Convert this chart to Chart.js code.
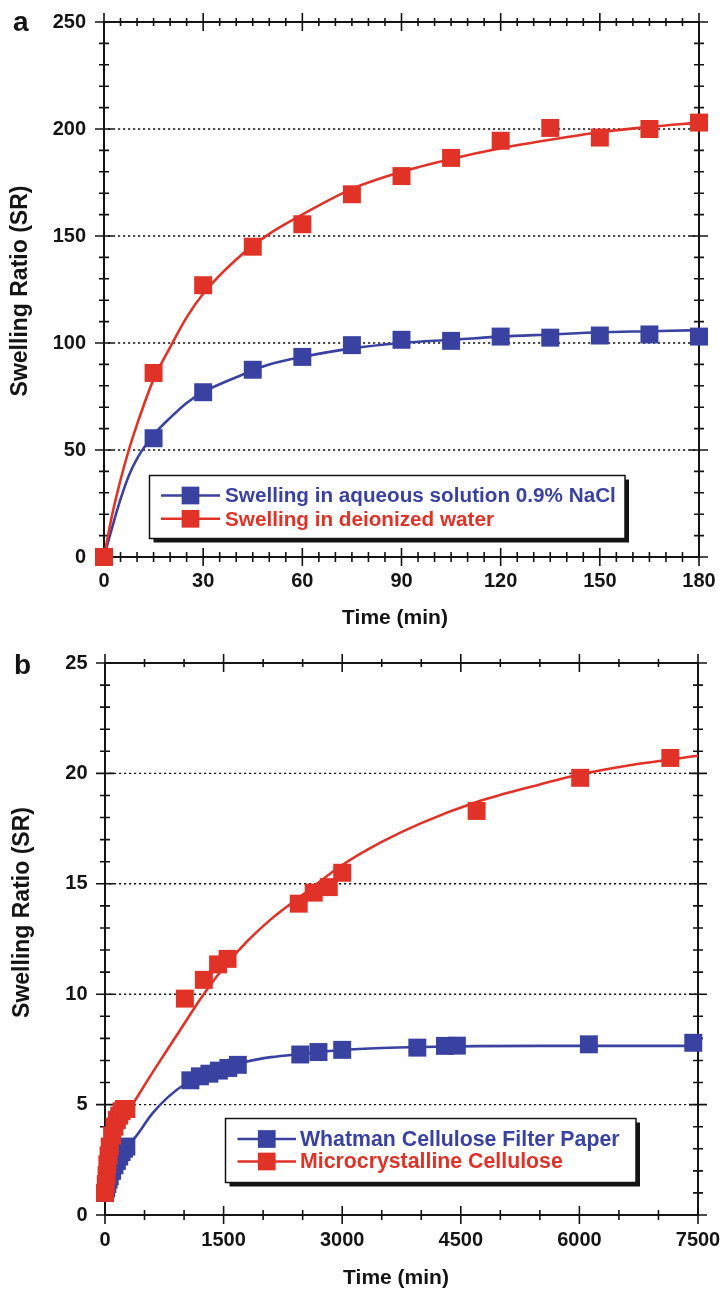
<!DOCTYPE html>
<html>
<head>
<meta charset="utf-8">
<script src="https://cdn.jsdelivr.net/npm/chart.js@4.4.0/dist/chart.umd.min.js"></script>
<style>
  html, body { margin: 0; padding: 0; background: #fff; }
  #wrap { position: relative; width: 720px; height: 1289px; overflow: hidden; }
  canvas { position: absolute; left: 0; }
</style>
</head>
<body>
<div id="wrap">
  <canvas id="chartA" width="720" height="640" style="top:0"></canvas>
  <canvas id="chartB" width="720" height="649" style="top:640px"></canvas>
</div>
<script>
const FONT = "'Liberation Sans', Arial, Helvetica, sans-serif";
const BLUE = '#3942a1';
const RED = '#e13227';
const INK = '#141414';

// ---- Panel a: swelling in saline vs deionized water (0-180 min) ----
const timeA   = [0, 15, 30, 45, 60, 75, 90, 105, 120, 135, 150, 165, 180];
const waterA  = [0, 86, 127, 145, 155.5, 169.5, 178, 186.5, 194.5, 200.5, 196, 200, 203];
const salineA = [0, 55.5, 77, 87.5, 93.5, 99, 101.5, 101, 103, 102.5, 103.5, 104, 103];

const fitTimeA   = [0, 2.5, 5, 7.5, 10, 15, 20, 25, 30, 40, 50, 60, 75, 90, 105, 120, 135, 150, 165, 180];
const waterFitA  = [0, 20, 36, 50, 62, 83, 98, 112, 123, 139, 151, 160, 172, 180, 186, 191, 195, 198.5, 201, 203];
const salineFitA = [0, 14, 27, 38, 46, 57, 65, 72, 77, 84, 90, 93.5, 97.5, 100, 101.5, 103, 104, 105, 105.5, 106];

const xTicksA = [0, 30, 60, 90, 120, 150, 180];
const yTicksA = [0, 50, 100, 150, 200, 250];

// ---- Panel b: filter paper vs microcrystalline cellulose (0-7500 min) ----
const timeMC = [0, 10, 20, 30, 45, 60, 90, 120, 150, 180, 210, 240, 270,
                1010, 1250, 1430, 1550, 2450, 2640, 2830, 3000, 4700, 6010, 7150];
const srMC   = [1.0, 1.4, 1.8, 2.3, 2.7, 3.1, 3.6, 4.0, 4.3, 4.5, 4.7, 4.8, 4.8,
                9.8, 10.65, 11.35, 11.6, 14.1, 14.6, 14.85, 15.5, 18.3, 19.8, 20.7];

const timeWP = [0, 15, 30, 45, 60, 90, 120, 150, 180, 210, 240, 270,
                1080, 1200, 1320, 1440, 1560, 1680, 2470, 2700, 3000, 3950, 4300, 4450, 6120, 7440];
const srWP   = [1.0, 1.2, 1.4, 1.6, 1.75, 2.0, 2.25, 2.45, 2.65, 2.85, 3.0, 3.1,
                6.1, 6.28, 6.4, 6.54, 6.66, 6.8, 7.27, 7.38, 7.48, 7.58, 7.66, 7.67, 7.73, 7.8];

const fitTimeB = [0, 50, 100, 200, 300, 400, 600, 800, 1000, 1200, 1500, 1800, 2100, 2500, 3000, 3500, 4000, 4700, 5500, 6000, 6600, 7500];
const mcFitB   = [1.0, 1.8, 2.5, 3.8, 4.7, 5.3, 6.45, 7.55, 8.65, 9.75, 11.2, 12.4, 13.4, 14.5, 15.85, 16.9, 17.75, 18.7, 19.5, 19.95, 20.35, 20.8];
const wpFitB   = [1.0, 1.5, 1.9, 2.6, 3.15, 3.6, 4.6, 5.35, 5.9, 6.25, 6.6, 6.95, 7.15, 7.3, 7.47, 7.56, 7.61, 7.65, 7.66, 7.66, 7.66, 7.66];

const xTicksB = [0, 1500, 3000, 4500, 6000, 7500];
const yTicksB = [0, 5, 10, 15, 20, 25];

const pts = (xs, ys) => xs.map((x, i) => ({ x, y: ys[i] }));

// Boxed axes with crossing major/minor ticks on all four sides, plus dotted grid
const framePlugin = {
  id: 'frame',
  beforeDatasetsDraw(chart, args, o) {
    const { ctx, chartArea: a } = chart;
    const sx = chart.scales.x, sy = chart.scales.y;
    ctx.save();
    ctx.strokeStyle = INK;
    ctx.lineWidth = 1.4;
    ctx.setLineDash([2.2, 2.8]);
    o.yMajor.forEach(v => {
      if (v <= sy.min || v >= sy.max) return;
      const p = sy.getPixelForValue(v);
      ctx.beginPath();
      ctx.moveTo(a.left + 4, p);
      ctx.lineTo(a.right, p);
      ctx.stroke();
    });
    ctx.setLineDash([]);
    ctx.lineWidth = 2;
    ctx.strokeRect(a.left, a.top, a.right - a.left, a.bottom - a.top);
    ctx.lineWidth = 1.6;
    ctx.beginPath();
    const eps = 1e-6;
    for (let v = sx.min; v <= sx.max + eps; v += o.xMinor) {
      const p = sx.getPixelForValue(v);
      const major = o.xMajor.some(m => Math.abs(m - v) < eps);
      const hb = major ? 9 : 5, ht = major ? 9 : 4;
      ctx.moveTo(p, a.bottom - hb); ctx.lineTo(p, a.bottom + hb);
      ctx.moveTo(p, a.top - ht); ctx.lineTo(p, a.top + ht);
    }
    for (let v = sy.min; v <= sy.max + eps; v += o.yMinor) {
      const p = sy.getPixelForValue(v);
      const major = o.yMajor.some(m => Math.abs(m - v) < eps);
      const h = major ? 9 : 5;
      ctx.moveTo(a.left - h, p); ctx.lineTo(a.left + h, p);
      ctx.moveTo(a.right - h, p); ctx.lineTo(a.right + h, p);
    }
    ctx.stroke();
    ctx.restore();
  }
};

// Framed legend with drop shadow
const legendBoxPlugin = {
  id: 'legendBox',
  afterDatasetsDraw(chart, args, o) {
    const ctx = chart.ctx;
    ctx.save();
    ctx.fillStyle = INK;
    ctx.fillRect(o.x + o.shadow, o.y + o.shadow, o.w, o.h);
    ctx.fillStyle = '#fff';
    ctx.fillRect(o.x, o.y, o.w, o.h);
    ctx.strokeStyle = INK;
    ctx.lineWidth = 1.5;
    ctx.strokeRect(o.x, o.y, o.w, o.h);
    o.rows.forEach((idx, k) => {
      const ds = chart.data.datasets[idx];
      const cy = o.y + o.firstRow + k * o.rowGap;
      ctx.strokeStyle = ds.backgroundColor;
      ctx.lineWidth = 2.6;
      ctx.beginPath();
      ctx.moveTo(o.lineX0, cy);
      ctx.lineTo(o.lineX1, cy);
      ctx.stroke();
      ctx.fillStyle = ds.backgroundColor;
      const s = o.marker;
      ctx.fillRect((o.lineX0 + o.lineX1) / 2 - s / 2, cy - s / 2, s, s);
      ctx.font = `bold ${o.fontSize}px ${FONT}`;
      ctx.textAlign = 'left';
      ctx.textBaseline = 'middle';
      ctx.fillText(ds.label, o.textX, cy + 1);
    });
    ctx.restore();
  }
};

// Panel letter and axis titles
const labelsPlugin = {
  id: 'labels',
  afterDraw(chart, args, o) {
    const ctx = chart.ctx;
    ctx.save();
    ctx.fillStyle = INK;
    ctx.font = `bold 28px ${FONT}`;
    ctx.textAlign = 'left';
    ctx.textBaseline = 'alphabetic';
    ctx.fillText(o.panel.text, o.panel.x, o.panel.y);

    ctx.font = `bold 21px ${FONT}`;
    ctx.textAlign = 'center';
    ctx.textBaseline = 'middle';
    ctx.fillText(o.xTitle.text, o.xTitle.x, o.xTitle.y);

    ctx.font = `bold 23px ${FONT}`;
    ctx.translate(o.yTitle.x, o.yTitle.y);
    ctx.rotate(-Math.PI / 2);
    ctx.fillText(o.yTitle.text, 0, 0);
    ctx.restore();
  }
};

function markerSet(label, data, color) {
  return {
    label, data, showLine: false, pointStyle: 'rect',
    pointRadius: 12.7, pointHoverRadius: 12.7, pointBorderWidth: 0,
    backgroundColor: color, borderColor: color, clip: false
  };
}
function curveSet(label, data, color) {
  return {
    label, data, showLine: true, pointRadius: 0, pointHoverRadius: 0,
    borderColor: color, backgroundColor: color, borderWidth: 2.6,
    cubicInterpolationMode: 'monotone', fill: false, clip: false
  };
}

// fixed scale size; label overhang is left to the layout padding
function fixSize(s, dim, size) {
  s[dim] = size;
  s.paddingTop = 0; s.paddingBottom = 0; s.paddingLeft = 0; s.paddingRight = 0;
}

function makeOptions(c) {
  const tickFont = { family: FONT, size: 20, weight: 'bold', lineHeight: 1.2 };
  return {
    responsive: false,
    animation: false,
    devicePixelRatio: 1,
    events: [],
    layout: { padding: { top: c.top, right: c.right, left: 0, bottom: 0 } },
    plugins: {
      legend: { display: false },
      tooltip: { enabled: false },
      frame: { xMinor: c.xMinor, yMinor: c.yMinor, xMajor: c.xTicks, yMajor: c.yTicks },
      legendBox: c.legend,
      labels: c.labels
    },
    scales: {
      x: {
        type: 'linear', position: 'bottom', min: c.xTicks[0], max: c.xTicks[c.xTicks.length - 1],
        afterBuildTicks: s => { s.ticks = c.xTicks.map(v => ({ value: v })); },
        afterFit: s => fixSize(s, 'height', c.xHeight),
        grid: { display: false, drawTicks: false },
        border: { display: false },
        ticks: { autoSkip: false, maxRotation: 0, minRotation: 0, padding: c.xPad, color: INK, font: tickFont,
                 callback: v => String(v) }
      },
      y: {
        type: 'linear', position: 'left', min: c.yTicks[0], max: c.yTicks[c.yTicks.length - 1],
        afterBuildTicks: s => { s.ticks = c.yTicks.map(v => ({ value: v })); },
        afterFit: s => fixSize(s, 'width', c.yWidth),
        grid: { display: false, drawTicks: false },
        border: { display: false },
        ticks: { autoSkip: false, padding: c.yPad, color: INK, font: tickFont,
                 callback: v => String(v) }
      }
    }
  };
}

Chart.register(framePlugin, legendBoxPlugin, labelsPlugin);

new Chart(document.getElementById('chartA'), {
  type: 'scatter',
  data: {
    datasets: [
      markerSet('Swelling in deionized water', pts(timeA, waterA), RED),
      markerSet('Swelling in aqueous solution 0.9% NaCl', pts(timeA, salineA), BLUE),
      curveSet('deionized water curve', pts(fitTimeA, waterFitA), RED),
      curveSet('NaCl curve', pts(fitTimeA, salineFitA), BLUE)
    ]
  },
  options: makeOptions({
    top: 22, right: 21, xHeight: 83, yWidth: 104, xPad: 12, yPad: 18,
    xTicks: xTicksA, yTicks: yTicksA, xMinor: 5, yMinor: 10,
    legend: { x: 149.5, y: 475.5, w: 475.5, h: 63, shadow: 4, firstRow: 20, rowGap: 23.3,
              lineX0: 161, lineX1: 220, marker: 17.7, textX: 225, fontSize: 20.7, rows: [1, 0] },
    labels: {
      panel: { text: 'a', x: 13, y: 31 },
      xTitle: { text: 'Time (min)', x: 395, y: 618 },
      yTitle: { text: 'Swelling Ratio (SR)', x: 21, y: 291 }
    }
  })
});

new Chart(document.getElementById('chartB'), {
  type: 'scatter',
  data: {
    datasets: [
      markerSet('Microcrystalline Cellulose', pts(timeMC, srMC), RED),
      markerSet('Whatman Cellulose Filter Paper', pts(timeWP, srWP), BLUE),
      curveSet('microcrystalline curve', pts(fitTimeB, mcFitB), RED),
      curveSet('filter paper curve', pts(fitTimeB, wpFitB), BLUE)
    ]
  },
  options: makeOptions({
    top: 23, right: 22, xHeight: 74, yWidth: 105, xPad: 13, yPad: 17.5,
    xTicks: xTicksB, yTicks: yTicksB, xMinor: 500, yMinor: 1,
    legend: { x: 225.5, y: 478.5, w: 410.5, h: 64, shadow: 4, firstRow: 20.5, rowGap: 22.5,
              lineX0: 237.5, lineX1: 296, marker: 17.7, textX: 300, fontSize: 21.3, rows: [1, 0] },
    labels: {
      panel: { text: 'b', x: 14, y: 33.5 },
      xTitle: { text: 'Time (min)', x: 396, y: 638 },
      yTitle: { text: 'Swelling Ratio (SR)', x: 22.5, y: 272.5 }
    }
  })
});
</script>
</body>
</html>
